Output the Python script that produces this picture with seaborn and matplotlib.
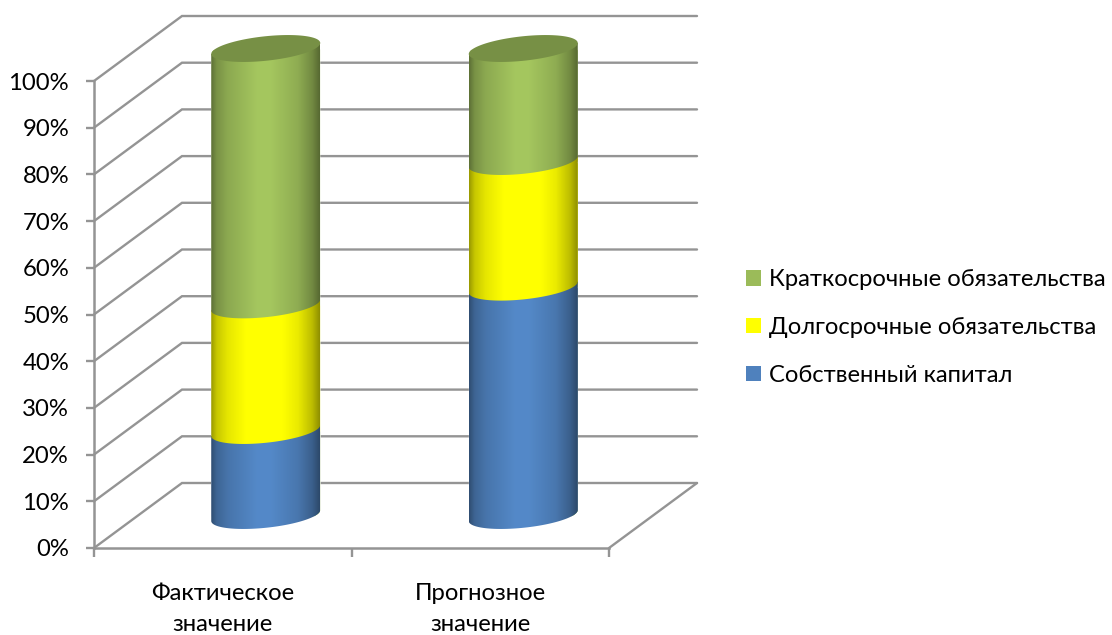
import numpy as np
import matplotlib
matplotlib.use("Agg")
import matplotlib.pyplot as plt
from matplotlib.patches import Patch, PathPatch
from matplotlib.path import Path
from matplotlib.transforms import Affine2D
from matplotlib.colors import to_rgb
import seaborn as sns

categories = ["Фактическое\nзначение", "Прогнозное\nзначение"]
equity = [18.2, 48.9]
long_term = [26.9, 26.9]
short_term = [54.9, 24.2]
series_names = ["Собственный капитал", "Долгосрочные обязательства", "Краткосрочные обязательства"]
series_colors = ["#4F81BD", "#FFFF00", "#9BBB59"]
percent_ticks = list(range(0, 101, 10))

sns.set_theme(style="white")
plt.rcParams["font.family"] = ["Lato", "Noto Sans", "DejaVu Sans"]

GRID = "#949494"
W, H = 1112, 635
fig = plt.figure(figsize=(W / 100, H / 100), dpi=100)
ax = fig.add_axes([94 / W, (H - 548) / H, 515 / W, 467 / H])
ax.patch.set_alpha(0)

# Oblique projection: depth of the box and where the cylinders sit inside it
BOX_DX, BOX_DY = 88 / 257.5, 65 / 4.67
CYL_DX, CYL_DY = 43 / 257.5, 32.5 / 4.67
BAR_WIDTH = 109 / 257.5
ELL_B, ELL_TILT = 2.63, 1.18

stack = np.vstack([equity, long_term, short_term])
tops = stack.cumsum(axis=0)
bottoms = tops - stack


def rim(center, level, start, stop, n=60):
    t = np.linspace(start, stop, n)
    return np.column_stack([
        center + BAR_WIDTH / 2 * np.cos(t),
        level + ELL_TILT * np.cos(t) + ELL_B * np.sin(t),
    ])


def closed(points):
    pts = np.vstack([points, points[:1]])
    codes = [Path.MOVETO] + [Path.LINETO] * (len(pts) - 2) + [Path.CLOSEPOLY]
    return Path(pts, codes)


# Cumulative bars, tallest first, give the base colours of each column
for row in range(2, -1, -1):
    before = len(ax.patches)
    sns.barplot(x=categories, y=tops[row], color=series_colors[row], saturation=1,
                width=BAR_WIDTH, ax=ax, zorder=3)
    for i, bar in enumerate(ax.patches[before:]):
        center = i + CYL_DX
        bar.set_transform(Affine2D().translate(CYL_DX, CYL_DY) + ax.transData)
        outline = np.vstack([rim(center, CYL_DY, np.pi, 2 * np.pi),
                             rim(center, CYL_DY + 100, 0, np.pi)])
        bar.set_clip_path(closed(outline), ax.transData)
        bar.set_clip_box(fig.bbox)

# Cylinder shading across the width, dark at the rims and bright near the middle
stops_x = [0.0, 0.05, 0.15, 0.42, 0.55, 0.8, 0.93, 1.0]
stops_v = [0.6, 0.78, 0.9, 1.06, 1.06, 0.92, 0.74, 0.56]
u = np.linspace(0, 1, 220)
shade = np.interp(u, stops_x, stops_v)

for i in range(len(categories)):
    center = i + CYL_DX
    for row in range(3):
        base = np.array(to_rgb(series_colors[row]))
        strip = np.clip(shade[None, :, None] * base, 0, 1)
        lo = bottoms[row, i] + CYL_DY
        hi = tops[row, i] + CYL_DY
        im = ax.imshow(strip, aspect="auto", interpolation="bilinear", zorder=4 + row,
                       extent=(center - BAR_WIDTH / 2, center + BAR_WIDTH / 2,
                               lo - ELL_B - ELL_TILT - 1, hi + ELL_TILT + ELL_B + 1))
        outline = np.vstack([rim(center, lo, np.pi, 2 * np.pi),
                             rim(center, hi, 0, 0, n=1),
                             rim(center, hi, np.pi, np.pi, n=1)])
        im.set_clip_path(closed(outline), ax.transData)
        im.set_clip_box(fig.bbox)
    lid = rim(center, 100 + CYL_DY, 0, 2 * np.pi, n=120)
    lid_color = np.array(to_rgb(series_colors[2])) * 0.77
    ax.add_patch(PathPatch(closed(lid), facecolor=lid_color, edgecolor="none",
                           zorder=8, clip_on=False))

# Left wall and back wall gridlines, then the far floor edge
x0, x1 = -0.5, 1.5
for p in percent_ticks:
    ax.plot([x0, x0 + BOX_DX, x1 + BOX_DX], [p, p + BOX_DY, p + BOX_DY], color=GRID,
            lw=1.7, clip_on=False, zorder=1, solid_joinstyle="miter")
ax.plot([x1, x1 + BOX_DX], [0, BOX_DY], color=GRID, lw=1.7, clip_on=False, zorder=1)

ax.set_xlim(x0, x1)
ax.set_ylim(0, 100)
ax.set_xlabel("")
ax.set_ylabel("")

for side in ("top", "right"):
    ax.spines[side].set_visible(False)
for side in ("left", "bottom"):
    ax.spines[side].set_color(GRID)
    ax.spines[side].set_linewidth(1.8)

ax.set_yticks(percent_ticks, [f"{p}%" for p in percent_ticks])
ax.set_xticks([x0, 0.5, x1], ["", "", ""])
ax.set_xticks([0, 1], categories, minor=True)
ax.tick_params(axis="y", length=6, width=1.7, color=GRID, pad=12, labelsize=17.2,
               labelcolor="black", left=True)
ax.tick_params(axis="x", which="major", length=6.5, width=1.7, color=GRID, bottom=True)
ax.tick_params(axis="x", which="minor", length=0, pad=25.4, labelsize=17.2, labelcolor="black")
for label in ax.get_xticklabels(minor=True):
    label.set_linespacing(1.58)

handles = [Patch(facecolor=c, edgecolor="none") for c in series_colors[::-1]]
fig.legend(handles, series_names[::-1], loc="center left",
           bbox_to_anchor=(725 / W, (H - 327.5) / H), frameon=False, fontsize=17.15,
           handlelength=0.63, handleheight=0.63, handletextpad=0.3, labelspacing=1.13,
           labelcolor="black")

fig.savefig("out.png", dpi=100)
